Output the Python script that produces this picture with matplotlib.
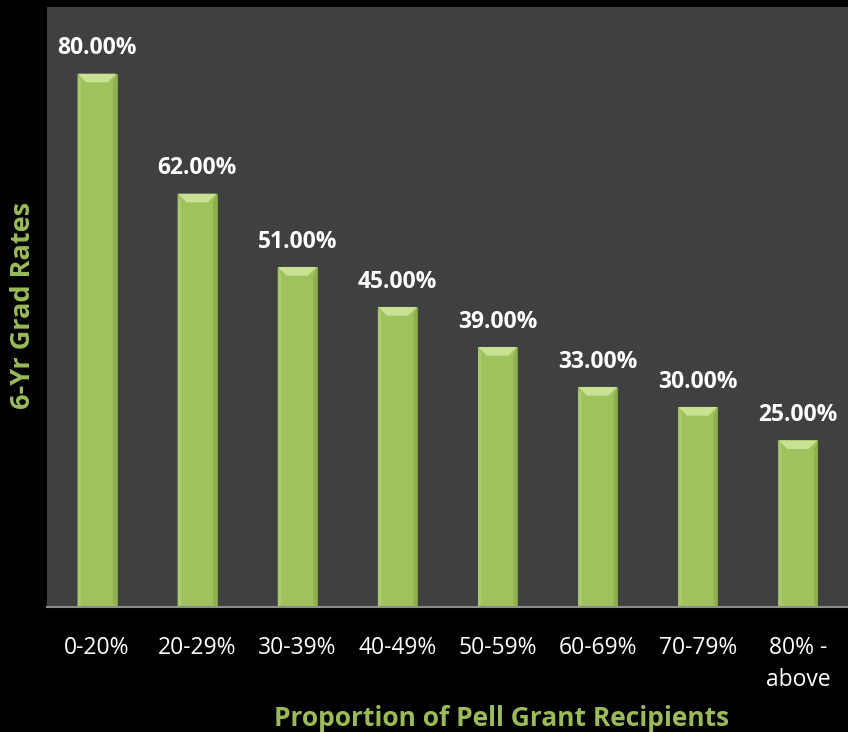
import matplotlib.pyplot as plt
from matplotlib.patches import Polygon
import numpy as np

# data
categories = ['0-20%', '20-29%', '30-39%', '40-49%', '50-59%', '60-69%', '70-79%', '80% -\nabove']
grad_rates = [80.0, 62.0, 51.0, 45.0, 39.0, 33.0, 30.0, 25.0]

green = '#9BBB59'
plt.rcParams['font.family'] = ['Open Sans', 'DejaVu Sans']

fig = plt.figure(figsize=(8.48, 7.32), dpi=100, facecolor='black')
ax = fig.add_axes([0.0554, 0.1708, 0.9446, 0.8196])
ax.set_facecolor('#404040')

x = np.arange(len(categories))
width = 0.39
bars = ax.bar(x, grad_rates, width=width, color='#9FC35C', edgecolor='#7F9A48', linewidth=0.8, zorder=2)

# bevel highlight on the top of each bar
bev_w = 0.09
bev_h = 1.3
for xi, v in zip(x, grad_rates):
    l, r = xi - width / 2, xi + width / 2
    top = Polygon([(l, v), (r, v), (r - bev_w, v - bev_h), (l + bev_w, v - bev_h)],
                  closed=True, facecolor='#C9E192', edgecolor='none', zorder=3)
    ax.add_patch(top)
    side_l = Polygon([(l, v), (l + bev_w * 0.4, v - bev_h), (l + bev_w * 0.4, 0.4), (l, 0)],
                     closed=True, facecolor='#AACB6C', edgecolor='none', zorder=3)
    ax.add_patch(side_l)
    side_r = Polygon([(r, v), (r - bev_w * 0.4, v - bev_h), (r - bev_w * 0.4, 0.4), (r, 0)],
                     closed=True, facecolor='#8FB04F', edgecolor='none', zorder=3)
    ax.add_patch(side_r)
    ax.text(xi, v + 3.8, f'{v:.2f}%', ha='center', va='center', color='white',
            fontsize=16.5, fontweight='bold')

ax.set_xlim(-0.5, len(categories) - 0.5)
ax.set_ylim(0, 90)
ax.set_yticks([])
ax.set_xticks(x)
ax.set_xticklabels(categories, color='white', fontsize=16.5, linespacing=1.45, va='top')
ax.tick_params(axis='x', length=0, pad=21)

for s in ['top', 'right', 'left']:
    ax.spines[s].set_visible(False)
ax.spines['bottom'].set_color('#8C8C8C')
ax.spines['bottom'].set_linewidth(1.5)

fig.text(0.591, 0.019, 'Proportion of Pell Grant Recipients', color=green, fontsize=19,
         fontweight='bold', ha='center', va='center')
fig.text(0.027, 0.583, '6-Yr Grad Rates', color=green, fontsize=19.5, fontweight='bold',
         ha='center', va='center', rotation=90)

fig.savefig('out.png', dpi=100, facecolor='black')
